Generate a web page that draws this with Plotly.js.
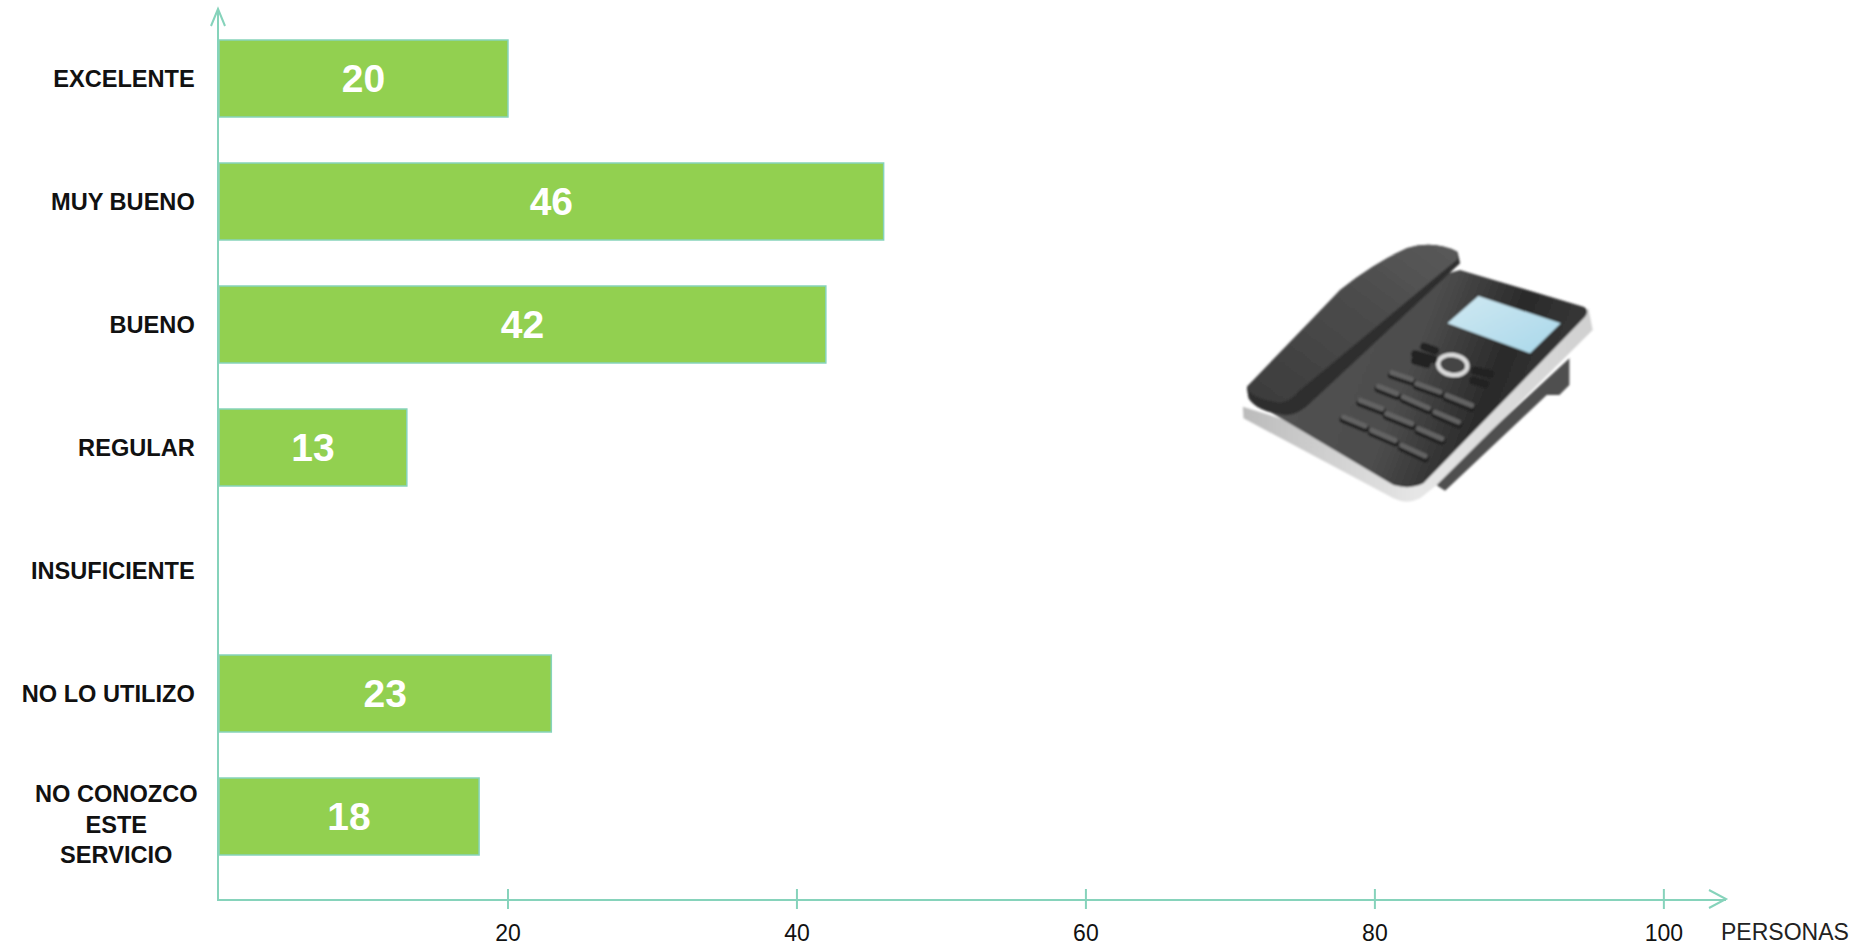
<!DOCTYPE html>
<html><head><meta charset="utf-8">
<script src="https://cdn.plot.ly/plotly-3.0.1.min.js"></script>
<style>html,body{margin:0;padding:0;background:#fff;overflow:hidden}#c{width:1852px;height:949px}</style>
</head><body><div id="c"></div>
<script>
const categories = ["EXCELENTE","MUY BUENO","BUENO","REGULAR","INSUFICIENTE","NO LO UTILIZO","NO CONOZCO<br>ESTE<br>SERVICIO"];
const personas = [20,46,42,13,null,23,18];
const xTicks = [20,40,60,80,100];
const xAxisName = "PERSONAS";

const axisColor = "#86d3bb";
const barColor = "#92d050";
const font = "'Liberation Sans', Arial, sans-serif";
const xRange = [0,104.3];
const yRange = [6.671,-0.565];
const M = {l:218.5, r:126, t:9, b:50};
const plotW = 1852-M.l-M.r, plotH = 949-M.t-M.b;

const phoneSvg = `<svg xmlns="http://www.w3.org/2000/svg" width="1260" height="900" viewBox="0 0 1260 900">
<defs>
<linearGradient id="b" x1="0" y1="0" x2="1" y2="0.25"><stop offset="0" stop-color="#555"/><stop offset="0.55" stop-color="#4d4d4d"/><stop offset="0.8" stop-color="#2a2a2a"/><stop offset="1" stop-color="#383838"/></linearGradient>
<linearGradient id="h" x1="0" y1="1" x2="1" y2="0"><stop offset="0" stop-color="#3c3c3c"/><stop offset="0.6" stop-color="#4c4c4c"/><stop offset="1" stop-color="#5a5a5a"/></linearGradient>
<linearGradient id="s" x1="0" y1="0" x2="1" y2="1"><stop offset="0" stop-color="#cfe8f2"/><stop offset="1" stop-color="#a9d8ea"/></linearGradient>
<linearGradient id="e" x1="0" y1="0" x2="1" y2="0"><stop offset="0" stop-color="#bbb"/><stop offset="0.5" stop-color="#e6e6e6"/><stop offset="1" stop-color="#d0d0d0"/></linearGradient>
<filter id="f"><feGaussianBlur stdDeviation="3.5"/></filter>
</defs>
<g filter="url(#f)">
<path d="M1108 415 L1108 495 L1078 525 L1040 525 L735 812 L700 790 Z" fill="#4f4f4f"/>
<path d="M128 560 L130 595 L580 835 Q620 855 660 835 L710 795 L1178 330 L1165 265 L700 740 Z" fill="url(#e)"/>
<path d="M150 540 L580 795 Q630 810 670 790 L1155 290 Q1170 270 1150 260 L780 150 L600 200 Z" fill="url(#b)"/>
<path d="M140 505 L145 535 Q170 575 250 585 Q290 590 330 550 L780 130 L772 95 Q700 60 620 85 Q520 130 420 210 Z" fill="#2d2d2d"/>
<path d="M140 500 Q150 535 240 548 Q270 545 300 510 L772 118 L770 95 Q700 60 620 85 Q520 130 420 210 Z" fill="url(#h)"/>
<polygon points="835,228 1082,310 990,400 742,310" fill="url(#s)"/>
<ellipse cx="758" cy="435" rx="44" ry="30" transform="rotate(8 758 435)" fill="#444" stroke="#dcdcdc" stroke-width="13"/>
<g stroke="#242424" stroke-width="24" stroke-linecap="round" fill="none">
<path d="M672 380 L705 392 M645 402 L700 418 M645 422 L680 432 M825 452 L870 462 M820 482 L855 492"/>
<path d="M575 465 L635 485 M650 498 L720 523 M740 533 L815 563"/>
<path d="M535 506 L590 528 M610 538 L685 571 M705 583 L775 613"/>
<path d="M480 548 L545 573 M560 588 L635 618 M655 633 L725 663"/>
<path d="M430 598 L495 625 M515 638 L585 668 M605 683 L675 715"/>
</g>
<g stroke="#636363" stroke-width="15" stroke-linecap="round" fill="none">
<path d="M575 458 L635 478 M650 491 L720 516 M740 526 L815 556"/>
<path d="M535 499 L590 521 M610 531 L685 564 M705 576 L775 606"/>
<path d="M480 541 L545 566 M560 581 L635 611 M655 626 L725 656"/>
<path d="M430 591 L495 618 M515 631 L585 661 M605 676 L675 708"/>
</g>
</g></svg>`;

const shapes = [];
// marcas del eje X, cruzando la linea
xTicks.forEach(v => shapes.push({type:"line", xref:"x", yref:"paper", ysizemode:"pixel", yanchor:0,
  x0:v, x1:v, y0:-10, y1:10, line:{color:axisColor, width:2}}));
// puntas de flecha abiertas
shapes.push({type:"path", xref:"paper", yref:"paper", xsizemode:"pixel", ysizemode:"pixel", xanchor:1, yanchor:0,
  path:"M -17 9 L 0 0 L -17 -9", line:{color:axisColor, width:2}});
shapes.push({type:"path", xref:"paper", yref:"paper", xsizemode:"pixel", ysizemode:"pixel", xanchor:0, yanchor:1,
  path:"M -8 -17 L -1 0 L 6 -17", line:{color:axisColor, width:2}});

const lastIdx = categories.length-1;
const data = [{
  type:"bar", orientation:"h",
  y:categories, x:personas,
  width:0.625,
  marker:{color:barColor, line:{color:axisColor, width:1.5}},
  text:personas.map(v => v==null ? "" : String(v)),
  textposition:"inside", insidetextanchor:"middle", textangle:0, constraintext:"none",
  textfont:{family:font, size:39, color:"#ffffff", weight:700},
  hoverinfo:"x+y"
}];

const layout = {
  width:1852, height:949, showlegend:false,
  paper_bgcolor:"#fff", plot_bgcolor:"#fff",
  margin:{l:M.l, r:M.r, t:M.t, b:M.b, pad:0},
  xaxis:{range:xRange, tickmode:"array", tickvals:xTicks, ticks:"outside", ticklen:12.5, tickwidth:2, tickcolor:"rgba(0,0,0,0)",
    showgrid:false, zeroline:false, showline:true, linecolor:axisColor, linewidth:2,
    tickfont:{family:font, size:23, color:"#111"}},
  yaxis:{type:"category", categoryorder:"array", categoryarray:categories, range:yRange,
    tickmode:"array", tickvals:categories, ticktext:categories.map((c,i)=> i===lastIdx ? "" : "<b>"+c+"</b>"),
    ticks:"outside", ticklen:17.5, tickcolor:"rgba(0,0,0,0)",
    showgrid:false, zeroline:false, showline:true, linecolor:axisColor, linewidth:2,
    tickfont:{family:font, size:23.6, color:"#111"}},
  shapes:shapes,
  annotations:[
    {xref:"paper", yref:"y", x:0, y:categories[lastIdx], xshift:-103, yshift:-8, xanchor:"center", yanchor:"middle",
     text:"<b>"+categories[lastIdx]+"</b>", showarrow:false, align:"center", font:{family:font, size:23.6, color:"#111"}},
    {xref:"x", yref:"paper", x:xRange[1], y:0, xshift:-7, yshift:-33, xanchor:"left", yanchor:"middle",
     text:xAxisName, showarrow:false, font:{family:font, size:23, color:"#222"}}
  ],
  images:[{source:"data:image/svg+xml;charset=utf-8,"+encodeURIComponent(phoneSvg),
    xref:"paper", yref:"paper", x:(1200-M.l)/plotW, y:1-(220-M.t)/plotH, sizex:420/plotW, sizey:300/plotH,
    xanchor:"left", yanchor:"top", sizing:"stretch", layer:"below"}]
};
Plotly.newPlot("c", data, layout, {displayModeBar:false, responsive:false});
</script></body></html>
